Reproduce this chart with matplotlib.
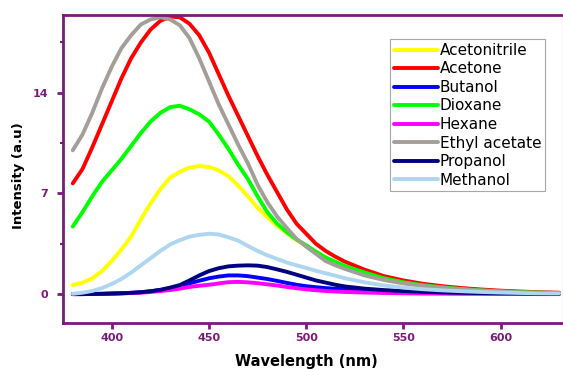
import matplotlib
matplotlib.use("Agg")
import matplotlib.pyplot as plt
from matplotlib.ticker import MultipleLocator

plt.rcParams['font.family'] = ['DejaVu Sans']

wavelength = [380, 385, 390, 395, 400, 405, 410, 415, 420, 425, 430, 435, 440, 445,
              450, 455, 460, 465, 470, 475, 480, 485, 490, 495, 500, 505, 510, 515,
              520, 530, 540, 550, 560, 570, 580, 590, 600, 610, 620, 630]

acetonitrile = [0.63, 0.8, 1.1, 1.6, 2.3, 3.1, 4.0, 5.2, 6.3, 7.3, 8.1, 8.5, 8.8, 8.9,
                8.85, 8.6, 8.2, 7.55, 6.8, 6.0, 5.35, 4.75, 4.25, 3.75, 3.35, 2.95, 2.55, 2.2,
                1.9, 1.4, 1.0, 0.75, 0.55, 0.42, 0.31, 0.23, 0.17, 0.12, 0.09, 0.06]
acetone = [7.7, 8.7, 10.2, 11.8, 13.4, 15.0, 16.4, 17.5, 18.4, 19.0, 19.3, 19.25, 18.8, 18.0,
           16.8, 15.3, 13.8, 12.4, 11.0, 9.6, 8.3, 7.1, 5.9, 4.9, 4.2, 3.5, 3.0, 2.6,
           2.25, 1.7, 1.25, 0.95, 0.72, 0.55, 0.42, 0.32, 0.24, 0.18, 0.13, 0.1]
butanol = [0.0, 0.0, 0.01, 0.02, 0.04, 0.06, 0.09, 0.13, 0.2, 0.28, 0.4, 0.55, 0.75, 0.93,
           1.1, 1.22, 1.3, 1.3, 1.25, 1.15, 1.05, 0.92, 0.78, 0.65, 0.55, 0.48, 0.42, 0.37,
           0.33, 0.25, 0.19, 0.14, 0.11, 0.09, 0.07, 0.06, 0.05, 0.04, 0.03, 0.03]
dioxane = [4.7, 5.7, 6.8, 7.8, 8.6, 9.4, 10.3, 11.2, 12.0, 12.6, 13.0, 13.1, 12.85, 12.5,
           12.0, 11.1, 10.1, 9.0, 8.0, 6.8, 5.7, 4.9, 4.3, 3.8, 3.4, 2.95, 2.55, 2.25,
           1.95, 1.5, 1.1, 0.82, 0.62, 0.47, 0.35, 0.26, 0.19, 0.14, 0.1, 0.07]
hexane = [0.0, 0.0, 0.01, 0.02, 0.03, 0.05, 0.07, 0.1, 0.15, 0.21, 0.28, 0.38, 0.5, 0.58,
          0.65, 0.74, 0.83, 0.85, 0.82, 0.76, 0.68, 0.6, 0.5, 0.41, 0.33, 0.27, 0.22, 0.18,
          0.15, 0.11, 0.08, 0.06, 0.04, 0.03, 0.02, 0.02, 0.01, 0.01, 0.0, 0.0]
ethyl_acetate = [10.0, 11.1, 12.6, 14.3, 15.8, 17.1, 18.0, 18.75, 19.1, 19.25, 19.1, 18.7, 17.8, 16.4,
                 14.8, 13.2, 11.8, 10.4, 9.1, 7.6, 6.4, 5.4, 4.6, 3.85, 3.3, 2.8, 2.3, 2.0,
                 1.75, 1.3, 0.98, 0.75, 0.57, 0.44, 0.33, 0.25, 0.18, 0.13, 0.09, 0.07]
propanol = [0.0, 0.0, 0.01, 0.02, 0.04, 0.06, 0.09, 0.13, 0.2, 0.3, 0.45, 0.63, 0.95, 1.3,
            1.6, 1.8, 1.93, 1.98, 2.0, 1.98, 1.88, 1.72, 1.55, 1.35, 1.15, 0.95, 0.8, 0.65,
            0.53, 0.38, 0.28, 0.21, 0.16, 0.12, 0.09, 0.07, 0.06, 0.05, 0.04, 0.03]
methanol = [0.02, 0.1, 0.22, 0.42, 0.7, 1.05, 1.5, 2.0, 2.5, 3.0, 3.45, 3.75, 4.0, 4.12,
            4.2, 4.15, 3.95, 3.72, 3.35, 3.0, 2.7, 2.45, 2.2, 2.0, 1.82, 1.62, 1.45, 1.28,
            1.1, 0.82, 0.6, 0.45, 0.34, 0.26, 0.2, 0.15, 0.11, 0.08, 0.06, 0.05]

labels = ['Acetonitrile', 'Acetone', 'Butanol', 'Dioxane', 'Hexane',
          'Ethyl acetate', 'Propanol', 'Methanol']
series = [acetonitrile, acetone, butanol, dioxane, hexane, ethyl_acetate, propanol, methanol]
colors = ['#FFFF00', '#FF0000', '#0000FF', '#00FF00', '#FF00FF', '#A39F98', '#000080', '#AED6F0']

purple = '#7A1A7A'

fig = plt.figure(figsize=(5.63, 3.69), dpi=100)
ax = fig.add_axes([0.112, 0.125, 0.888, 0.834])

for y, lab, c in zip(series, labels, colors):
    ax.plot(wavelength, y, color=c, lw=2.8, label=lab,
            solid_capstyle='round', solid_joinstyle='round')

ax.set_xlim(375, 632)
ax.set_ylim(-2.0, 19.4)
ax.set_xticks([400, 450, 500, 550, 600])
ax.set_yticks([0, 7, 14])
ax.yaxis.set_minor_locator(MultipleLocator(3.5))

for s in ax.spines.values():
    s.set_color(purple)
    s.set_linewidth(2.0)
ax.spines['right'].set_color('#F0B0F0')
ax.spines['right'].set_linewidth(1.0)

ax.tick_params(axis='both', which='major', direction='out', length=4, width=2,
               color=purple, labelcolor=purple, labelsize=8, pad=3)
ax.tick_params(axis='y', which='major', pad=6.5)
ax.tick_params(axis='y', which='minor', direction='out', length=2.5, width=1.5, color=purple)
for t in ax.get_xticklabels() + ax.get_yticklabels():
    t.set_fontweight('bold')

ax.set_xlabel('Wavelength (nm)', fontsize=10.5, fontweight='bold')
ax.set_ylabel('Intensity (a.u)', fontsize=9.5, fontweight='bold')
ax.xaxis.set_label_coords(0.487, -0.10)
ax.yaxis.set_label_coords(-0.076, 0.48)

leg = ax.legend(loc='upper left', bbox_to_anchor=(0.654, 0.922), borderaxespad=0,
                fontsize=11, handlelength=2.9, handletextpad=0.1, labelspacing=0.23,
                borderpad=0.25, frameon=True, fancybox=False, edgecolor='#909090')
leg.get_frame().set_linewidth(0.8)
for line in leg.get_lines():
    line.set_linewidth(2.8)

fig.savefig('out.png', dpi=100)
